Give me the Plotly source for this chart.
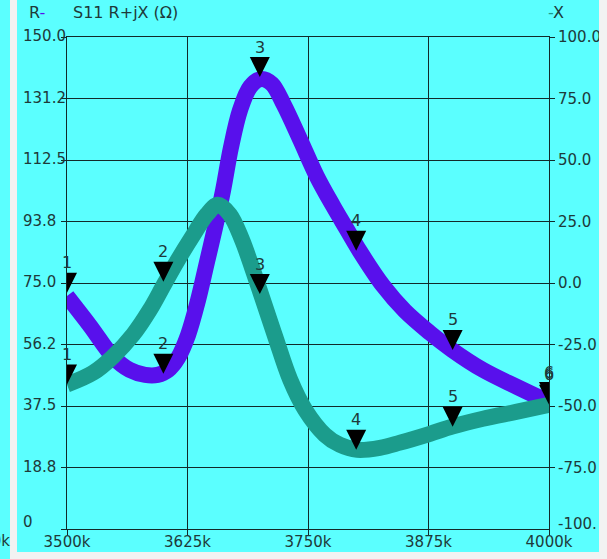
import plotly.graph_objects as go

# ---------------- data ----------------
freq_r = [3500, 3524, 3548, 3565, 3581, 3594, 3605, 3615, 3625.5, 3636, 3645, 3653.5,
          3662, 3670, 3679.5, 3690, 3701.5, 3712.5, 3725, 3742, 3759, 3776, 3790, 3803.5,
          3828, 3850.5, 3876.5, 3899.5, 3931.5, 3967, 4000]
r_vals = [71.0, 61.9, 52.4, 48.5, 47.0, 47.0, 48.5, 52.1, 59.1, 69.8, 81.1, 91.8,
          103.4, 116.2, 127.7, 134.8, 137.2, 135.7, 129.3, 118.6, 107.6, 98.5, 91.5, 84.8,
          74.1, 66.5, 59.8, 54.6, 48.5, 43.3, 38.7]

freq_x = [3500, 3527, 3547.5, 3568.5, 3586, 3600.5, 3614, 3630.5, 3645, 3656.5, 3669,
          3681.5, 3692, 3702.5, 3716, 3731.5, 3747, 3767.5, 3783, 3801, 3824.5, 3845.5,
          3876.5, 3899.5, 3931.5, 3967, 4000]
x_vals = [-41.3, -36.5, -30.0, -21.0, -10.9, -0.7, 8.7, 19.2, 27.8, 31.8, 27.8,
          17.6, 6.2, -6.0, -21.8, -39.3, -51.5, -61.7, -65.8, -67.8, -67.0, -64.9,
          -61.3, -58.4, -55.2, -52.3, -49.5]

marker_freq = [3500, 3600, 3700, 3800, 3900, 4000]
marker_r = [72.0, 47.3, 137.8, 84.8, 54.6, 38.7]
marker_x = [-41.3, 0.5, -4.5, -67.8, -58.4, -49.5]
marker_labels = ["1", "2", "3", "4", "5", "6"]

x_tickvals = [3500, 3625, 3750, 3875, 4000]
x_ticktext = ["3500k", "3625k", "3750k", "3875k", "4000k"]
r_tickvals = [0, 18.75, 37.5, 56.25, 75, 93.75, 112.5, 131.25, 150]
r_ticktext = ["0", "18.8", "37.5", "56.2", "75.0", "93.8", "112.5", "131.2", "150.0"]
x2_tickvals = [-75, -50, -25, 0, 25, 50, 75, 100]
x2_ticktext = ["-75.0", "-50.0", "-25.0", "0.0", "25.0", "50.0", "75.0", "100.0"]

# ---------------- style ----------------
W, H = 607, 559
L, R_, T, B = 67, 58, 37, 30
PW, PH = W - L - R_, H - T - B
CYAN = "#5bffff"
GRAY = "#f2f2f2"
PURPLE = "#5810ec"
TEAL = "#1b9c8c"
GRID = "#122a2a"
TXT = "#1e3a3a"
FONT = "DejaVu Sans"


def px(p):
    return (p - L) / PW


def py(p):
    return (H - B - p) / PH


fig = go.Figure()

fig.add_trace(go.Scatter(x=freq_x, y=x_vals, yaxis="y2", mode="lines",
                         line=dict(color=TEAL, width=16, shape="spline", smoothing=1.0),
                         hoverinfo="skip", showlegend=False))
fig.add_trace(go.Scatter(x=freq_r, y=r_vals, yaxis="y", mode="lines",
                         line=dict(color=PURPLE, width=16, shape="spline", smoothing=1.0),
                         hoverinfo="skip", showlegend=False))

fig.add_trace(go.Scatter(x=marker_freq, y=marker_r, yaxis="y", mode="markers",
                         marker=dict(symbol="arrow-down", size=20, color="black",
                                     line=dict(width=0)),
                         hoverinfo="skip", showlegend=False))
fig.add_trace(go.Scatter(x=marker_freq, y=marker_x, yaxis="y2", mode="markers",
                         marker=dict(symbol="arrow-down", size=20, color="black",
                                     line=dict(width=0)),
                         hoverinfo="skip", showlegend=False))

annotations = []
for f, v, t in zip(marker_freq, marker_r, marker_labels):
    annotations.append(dict(x=f, y=v, xref="x", yref="y", text=t, showarrow=False,
                            yshift=30, font=dict(family=FONT, size=16, color=TXT)))
for f, v, t in zip(marker_freq, marker_x, marker_labels):
    annotations.append(dict(x=f, y=v, xref="x", yref="y2", text=t, showarrow=False,
                            yshift=30, font=dict(family=FONT, size=16, color=TXT)))

# left tick labels (left-aligned)
for v, t in zip(r_tickvals, r_ticktext):
    annotations.append(dict(x=px(21), y=v, xref="paper", yref="y", text=t, showarrow=False,
                            xanchor="left", yanchor="middle",
                            yshift=(7 if v == 0 else 1),
                            font=dict(family=FONT, size=15, color=TXT)))
# bottom right label
annotations.append(dict(x=px(556), y=-100, xref="paper", yref="y2", text="-100.",
                        showarrow=False, xanchor="left", yanchor="middle", yshift=5,
                        font=dict(family=FONT, size=15, color=TXT)))
# headers
annotations.append(dict(x=px(27), y=py(13), xref="paper", yref="paper",
                        text="R<span style='color:%s'>-</span>" % PURPLE,
                        showarrow=False, xanchor="left", yanchor="middle",
                        font=dict(family=FONT, size=16, color=TXT)))
annotations.append(dict(x=px(71), y=py(13), xref="paper", yref="paper",
                        text="S11 R+jX (Ω)",
                        showarrow=False, xanchor="left", yanchor="middle",
                        font=dict(family=FONT, size=16, color=TXT)))
annotations.append(dict(x=px(546), y=py(13), xref="paper", yref="paper",
                        text="<span style='color:%s'>-</span>X" % TEAL,
                        showarrow=False, xanchor="left", yanchor="middle",
                        font=dict(family=FONT, size=16, color=TXT)))
# clipped label of neighbouring panel
annotations.append(dict(x=px(12), y=py(541), xref="paper", yref="paper",
                        text="4000k", showarrow=False, xanchor="right", yanchor="middle",
                        font=dict(family=FONT, size=15, color=TXT)))

shapes = [
    dict(type="rect", xref="paper", yref="paper", x0=px(10), x1=px(17), y0=py(H + 5), y1=py(-5),
         fillcolor=GRAY, line=dict(width=0), layer="below"),
    dict(type="rect", xref="paper", yref="paper", x0=px(10), x1=px(W + 5), y0=py(H + 5), y1=py(552),
         fillcolor=GRAY, line=dict(width=0), layer="below"),
    dict(type="rect", xref="paper", yref="paper", x0=px(599), x1=px(W + 5), y0=py(H + 5), y1=py(-5),
         fillcolor=GRAY, line=dict(width=0), layer="above"),
]

axis_common = dict(showgrid=True, gridcolor=GRID, gridwidth=1, zeroline=False,
                   ticks="outside", ticklen=5, tickcolor=GRID, tickwidth=1,
                   showline=True, linecolor=GRID, linewidth=1, mirror=True,
                   automargin=False,
                   tickfont=dict(family=FONT, size=15, color=TXT))

fig.update_layout(
    width=W, height=H,
    margin=dict(l=L, r=R_, t=T, b=B, pad=0, autoexpand=False),
    paper_bgcolor=CYAN, plot_bgcolor=CYAN,
    font=dict(family=FONT, color=TXT),
    showlegend=False,
    xaxis=dict(range=[3500, 4000], tickmode="array", tickvals=x_tickvals,
               ticktext=x_ticktext, ticklabelstandoff=-6, **axis_common),
    yaxis=dict(range=[0, 150], tickmode="array", tickvals=r_tickvals,
               showticklabels=False, **axis_common),
    yaxis2=dict(range=[-100, 100], overlaying="y", side="right", tickmode="array",
                tickvals=x2_tickvals, ticktext=x2_ticktext, showgrid=False, zeroline=False,
                ticks="outside", ticklen=5, tickcolor=GRID, showline=False,
                automargin=False,
                tickfont=dict(family=FONT, size=15, color=TXT)),
    annotations=annotations,
    shapes=shapes,
)

fig.write_html("out.html", config={"displayModeBar": False},
               post_script="document.body.style.margin='0px';"
                           "document.body.style.overflow='hidden';")
